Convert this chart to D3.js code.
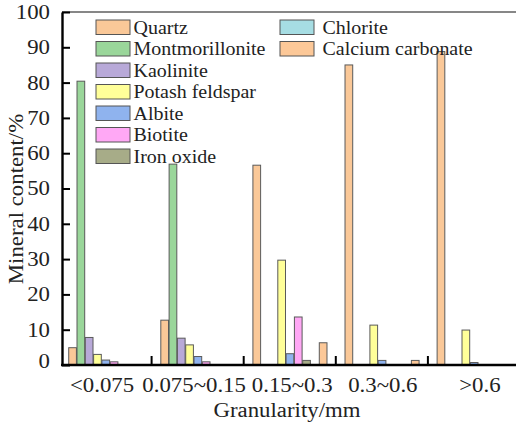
<!DOCTYPE html>
<html><head><meta charset="utf-8">
<script src="https://cdn.jsdelivr.net/npm/d3@7"></script>
<style>
html,body{margin:0;padding:0;background:#fff;}
svg{display:block;}
</style></head>
<body>
<svg id="c" width="516" height="424"></svg>
<script>
const categories = ["<0.075", "0.075~0.15", "0.15~0.3", "0.3~0.6", ">0.6"];
const seriesNames = ["Quartz","Montmorillonite","Kaolinite","Potash feldspar","Albite","Biotite","Iron oxide","Chlorite","Calcium carbonate"];
const quartz          = [4.9, 12.7, 56.6, 85.0, 88.8];
const montmorillonite = [80.4, 56.9, 0, 0, 0];
const kaolinite       = [7.8, 7.6, 0, 0, 0];
const potashFeldspar  = [3.0, 5.7, 29.7, 11.3, 9.9];
const albite          = [1.4, 2.4, 3.2, 1.3, 0.7];
const biotite         = [0.9, 0.9, 13.6, 0, 0];
const ironOxide       = [0, 0, 1.3, 0, 0];
const chlorite        = [0, 0, 0, 0, 0];
const calciumCarbonate= [0, 0, 6.3, 1.3, 0];
const yTicks = [0,10,20,30,40,50,60,70,80,90,100];
const colors = ["#FAC898","#9AD69A","#B8A9D8","#FFFF99","#8FB3EE","#FFA8F5","#A7AC88","#A6DDE3","#FCC898"];
const labelNudge = [-3.5, -3.5, 2.5, 1, 6];

const seriesValues = [quartz,montmorillonite,kaolinite,potashFeldspar,albite,biotite,ironOxide,chlorite,calciumCarbonate];

function hasFont(name){
  const c = document.createElement("canvas").getContext("2d");
  const s = "mmmmmmmmmmlli0123456789WQ";
  c.font = "40px monospace"; const a = c.measureText(s).width;
  c.font = `40px "${name}", monospace`; const b = c.measureText(s).width;
  return Math.abs(a-b) > 0.5;
}
const candidates = ["Liberation Serif","Times New Roman","DejaVu Serif","Noto Serif"];
const FONT = candidates.find(hasFont) || "serif";
const timesLike = FONT === "Liberation Serif" || FONT === "Times New Roman";
const kMain = timesLike ? 1.14 : 0.97;
const kLeg = timesLike ? 1.05 : 0.92;

const svg = d3.select("#c");
const x0 = d3.scaleBand().domain(categories).range([59.5, 520]).padding(0);
const x1 = d3.scaleBand().domain(seriesNames).range([0, x0.bandwidth()]).paddingInner(0).paddingOuter(1.05);
const y = d3.scaleLinear().domain([0,100]).range([365, 12]);
const axisLeft = 62, plotRight = 516;

const data = [];
categories.forEach((c,i)=>seriesNames.forEach((s,j)=>{
  if (seriesValues[j][i] > 0) data.push({c, s, v: seriesValues[j][i], k: j});
}));
svg.append("g").selectAll("rect").data(data).join("rect")
  .attr("x", d => x0(d.c) + x1(d.s) + 0.5)
  .attr("width", x1.bandwidth() - 0.6)
  .attr("y", d => y(d.v))
  .attr("height", d => y(0) - y(d.v))
  .attr("fill", d => colors[d.k])
  .attr("stroke", "#5a5a5a").attr("stroke-width", 1);

svg.append("line").attr("x1", axisLeft).attr("x2", plotRight).attr("y1", y(100)).attr("y2", y(100))
  .attr("stroke", "#111").attr("stroke-width", 1.2);

const ya = svg.append("g").attr("transform", `translate(${axisLeft},0)`)
  .call(d3.axisLeft(y).tickValues(yTicks).tickSizeInner(-8).tickSizeOuter(0).tickPadding(12).tickFormat(d3.format("d")));
ya.select(".domain").attr("stroke","#000").attr("stroke-width",2.4);
ya.selectAll(".tick line").attr("stroke","#000").attr("stroke-width",2);
ya.selectAll(".tick text").attr("font-size",20).attr("class","st")
  .attr("dy", d => d === 0 ? "0.12em" : "0.32em");

const xa = svg.append("g").attr("transform", `translate(0,${y(0)})`);
xa.append("line").attr("x1", axisLeft - 1).attr("x2", plotRight).attr("stroke","#000").attr("stroke-width",2.4);
xa.selectAll("line.tk").data(categories.slice(1)).join("line").attr("class","tk")
  .attr("x1", d => x0(d)).attr("x2", d => x0(d)).attr("y1", 0).attr("y2", -9)
  .attr("stroke","#000").attr("stroke-width",2);
xa.selectAll("text.xl").data(categories).join("text").attr("class","xl st")
  .attr("x", (d,i) => x0(d) + x0.bandwidth()/2 + labelNudge[i])
  .attr("y", 27).attr("text-anchor","middle").attr("font-size",20).text(d => d);

svg.append("text").attr("class","st").attr("x", 287).attr("y", 417).attr("text-anchor","middle")
  .attr("font-size",20).text("Granularity/mm");
svg.append("text").attr("class","st").attr("transform","translate(22.5,199) rotate(-90)")
  .attr("text-anchor","middle").attr("font-size",20).text("Mineral content/%");

const leg = svg.append("g");
const pos = [];
seriesNames.forEach((s,j)=>{
  const col = j < 7 ? 0 : 1;
  const row = j < 7 ? j : j - 7;
  pos.push({s, j, sx: col ? 280 : 96, tx: col ? 322.5 : 133.5, y: 20 + row*21.5});
});
leg.selectAll("rect").data(pos).join("rect")
  .attr("x", d => d.sx).attr("y", d => d.y).attr("width", 34).attr("height", 14.5)
  .attr("fill", d => colors[d.j]).attr("stroke","#555").attr("stroke-width",1);
leg.selectAll("text").data(pos).join("text").attr("class","lg")
  .attr("x", d => d.tx).attr("y", d => d.y + 13.5).attr("font-size",19).text(d => d.s);

svg.selectAll("text").attr("font-family", FONT).style("font-family", `"${FONT}", serif`).attr("fill","#222");

function stretch(sel, k){
  sel.each(function(){
    const L = this.getComputedTextLength();
    d3.select(this).attr("textLength", L*k).attr("lengthAdjust","spacingAndGlyphs");
  });
}
stretch(svg.selectAll("text.st"), kMain);
stretch(leg.selectAll("text.lg"), kLeg);
</script>
</body></html>
